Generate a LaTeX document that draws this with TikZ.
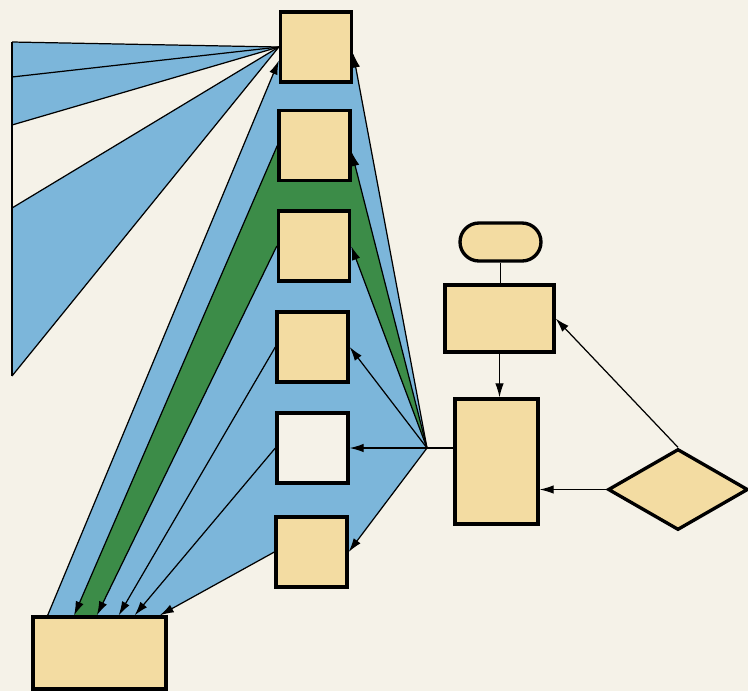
\documentclass[tikz,border=0pt]{standalone}
\usepackage{tikz}
\usetikzlibrary{arrows.meta,shapes.geometric,backgrounds}
\definecolor{paper}{RGB}{245,242,232}
\definecolor{flowtan}{RGB}{243,220,162}
\definecolor{flowblue}{RGB}{124,182,218}
\definecolor{flowgreen}{RGB}{60,140,72}

\begin{document}
\begin{tikzpicture}[
  x=0.02cm, y=-0.02cm,
  every node/.style={draw, line width=1.9pt, fill=flowtan, inner sep=0pt},
  box/.style={minimum width=1.42cm, minimum height=1.4cm},
  link/.style={draw, line width=0.7pt},
  arrow/.style={link, -{Latex[length=2.8mm,width=1.7mm]}}
]
\useasboundingbox (0,0) rectangle (748,691);
\node[box] (s1) at (316,47) {};
\node[box] (s2) at (314.5,145.5) {};
\node[box] (s3) at (314,246) {};
\node[box] (s4) at (312.5,347) {};
\node[box, fill=paper] (s5) at (312.5,448) {};
\node[box] (s6) at (311.5,552) {};
\node[minimum width=2.66cm, minimum height=1.44cm] (total) at (99.5,653) {};
\node[minimum width=1.62cm, minimum height=0.76cm, rounded corners=0.38cm] (start) at (500.5,242) {};
\node[minimum width=2.18cm, minimum height=1.34cm] (load) at (499.5,318.5) {};
\node[minimum width=1.66cm, minimum height=2.5cm] (run) at (496.5,461.5) {};
\node[diamond, minimum width=2.8cm, minimum height=1.62cm] (test) at (678,489.5) {};
\coordinate (hub) at (427,448);
\coordinate (p1) at (12,42);
\coordinate (p2) at (12,77);
\coordinate (p3) at (12,125);
\coordinate (p4) at (12,208);
\coordinate (p5) at (12,376);

\begin{scope}[on background layer]
\fill[paper] (0,0) rectangle (748,691);
\fill[flowblue] (p1) -- (s1.west) -- (p3) -- cycle;
\fill[flowblue] (p4) -- (s1.west) -- (p5) -- cycle;
\fill[flowblue] (total.144) -- (s1.200) -- (s1.-10) -- (hub) -- (s6.east) -- (s6.west) -- (total.32) -- cycle;
\fill[flowgreen] (total.124) -- (s2.west) -- (s2.-10) -- (hub) -- (s3.east) -- (s3.west) -- (total.94) -- cycle;
\draw[link] (p1) -- (p5);
\foreach \p in {p1,p2,p3,p4,p5}
  \draw[link] (\p) -- (s1.west);
\draw[arrow] (total.144) -- (s1.200);
\foreach \s/\a in {s1/-10,s2/-10,s3/0,s4/0,s5/0,s6/0}
  \draw[arrow] (hub) -- (\s.\a);
\foreach \s/\a in {s2/124,s3/94,s4/63,s5/47,s6/32}
  \draw[arrow] (\s.west) -- (total.\a);
\draw[link] (hub) -- (hub -| run.west);
\draw[link] (start.south) -- (start.south |- load.north);
\draw[arrow] (load.south) -- (load.south |- run.north);
\draw[arrow] (test.north) -- (load.east);
\draw[arrow] (test.west) -- (test.west -| run.east);
\end{scope}
\end{tikzpicture}
\end{document}
